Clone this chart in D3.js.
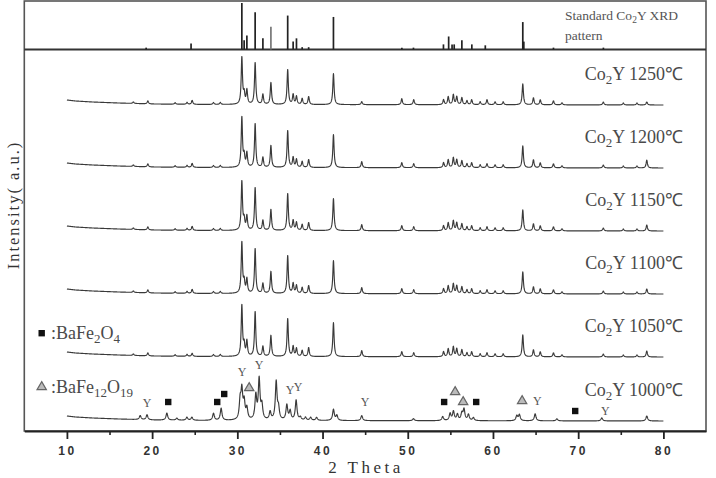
<!DOCTYPE html>
<html><head><meta charset="utf-8">
<script src="https://cdn.jsdelivr.net/npm/d3@7"></script>
<style>body{margin:0;background:#fff}</style>
</head><body>
<svg id="c" width="716" height="478"></svg>
<script>
// ---------- data ----------
const xTicks = [10, 20, 30, 40, 50, 60, 70, 80];
const xMinorTicks = [15, 25, 35, 45, 55, 65, 75];

// standard Co2Y stick pattern: 2theta, relative intensity (%)
const stdAngles  = [19.3, 24.57, 30.53, 30.80, 31.12, 32.09, 33.00, 33.94, 35.91, 36.55, 36.94, 37.61, 38.37, 41.28, 49.31, 50.67, 54.19, 54.80, 55.20, 55.45, 56.35, 57.52, 59.10, 63.50, 63.62, 67.10, 72.96];
const stdHeights = [4, 13, 100, 20, 30, 80, 24, 49, 73, 17, 24, 5, 5, 70, 4, 4, 11, 28, 11, 11, 20, 11, 9, 59, 17, 4, 4];

// Co2Y phase peaks in the 1050-1250 patterns
const co2yAngles = [17.8, 19.5, 22.7, 24.1, 24.7, 27.2, 28.0, 30.53, 30.80, 31.12, 32.09, 33.00, 33.94, 35.91, 36.55, 36.94, 37.61, 38.37, 41.28, 44.6, 49.3, 50.7, 54.2, 54.75, 55.35, 55.75, 56.35, 56.95, 57.5, 58.5, 59.3, 60.25, 61.2, 63.5, 64.75, 65.55, 67.1, 68.1, 72.95, 75.3, 76.9, 78.05];
const h1250 = [1.5, 3, 1.5, 2, 4, 2, 2, 47, 10, 14, 42, 10, 22, 35, 10, 8, 6, 8, 31, 3, 6, 5, 5, 8, 10, 8, 7, 4, 5, 3, 5, 3, 3, 21, 7, 5, 4, 2, 3, 2, 2, 3];
const h1200 = [1.5, 3, 1.5, 2, 4, 2, 2, 50, 11, 14, 44, 10, 22, 37, 10, 8, 6, 8, 33, 6, 5, 4, 5, 8, 10, 8, 7, 4, 5, 3, 4, 3, 3, 22, 8, 5, 4, 2, 3, 2, 2, 8];
const h1150 = [1.5, 3, 1.5, 2, 4, 2, 2, 49, 10, 14, 43, 10, 21, 37, 10, 8, 6, 8, 32, 6, 5, 4, 5, 8, 10, 8, 7, 4, 5, 3, 4, 3, 3, 21, 7, 5, 4, 2, 3, 2, 2, 6];
const h1100 = [1.5, 3, 1.5, 2, 4, 2, 2, 51, 11, 14, 45, 10, 22, 38, 10, 8, 6, 8, 33, 6, 5, 4, 5, 8, 10, 8, 7, 4, 5, 3, 4, 3, 3, 22, 7, 5, 4, 2, 3, 2, 2, 5];
const h1050 = [1.5, 3, 1.5, 2, 3, 2, 2, 51, 11, 15, 45, 10, 21, 38, 10, 8, 6, 9, 34, 6, 5, 4, 5, 8, 10, 8, 7, 4, 5, 3, 4, 3, 3, 22, 7, 5, 4, 2, 3, 2, 2, 6];

// 1000 C pattern (mixed phases)
const angles1000 = [18.6, 19.4, 21.73, 22.9, 24.08, 24.67, 27.2, 28.1, 30.33, 30.53, 30.8, 31.12, 32.17, 32.56, 32.88, 33.85, 34.56, 34.83, 35.81, 36.2, 36.9, 37.4, 38.0, 38.6, 39.3, 41.28, 41.68, 44.6, 50.67, 54.1, 54.97, 55.36, 55.83, 56.35, 56.6, 57.12, 57.7, 62.8, 63.1, 64.95, 67.5, 72.77, 78.05];
const h1000 = [4, 5, 7, 2, 3, 3, 7, 12, 18, 28, 17, 11, 24, 40, 14, 8, 38, 11, 15, 9, 20, 3, 3, 3, 3, 11, 5, 5, 2, 4, 7, 9, 6, 7, 11, 6, 3, 5, 6, 7, 2, 3, 5];

// sloping background at low angle
const bgAngles = [10, 11, 13, 16, 20, 26, 80];
const bgLevels = [5, 4, 3, 2, 1, 0.5, 0];

const seriesLabels = ["1250", "1200", "1150", "1100", "1050", "1000"];
const seriesOffsets = [326, 263, 200, 137, 74, 10];

// phase markers on the 1000 pattern: 2theta, height above its baseline
const markY      = [[19.42, 18], [30.57, 49], [32.56, 56], [36.2, 31], [37.14, 34], [45.0, 19], [65.2, 20], [73.2, 10.5]];
const markSquare = [[21.89, 19], [27.64, 19], [28.46, 27], [54.27, 19], [58.03, 19], [69.65, 10]];
const markTri    = [[31.39, 33], [55.56, 29], [56.5, 19], [63.42, 20]];

// ---------- drawing ----------
const svg = d3.select("#c");
const serif = "'Liberation Serif','Times New Roman',serif";
const L = 24.3, R = 706, T = 1, B = 431, SEP = 49.5;
const x = d3.scaleLinear().domain([5, 85]).range([L, R]);
const yTop = d3.scaleLinear().domain([0, 100]).range([SEP, 3]);
const yMain = d3.scaleLinear().domain([0, 380]).range([B, 51]);
const bg = d3.scaleLinear().domain(bgAngles).range(bgLevels).clamp(true);
const grid = d3.range(10, 80.0001, 0.02);

function profile(pos, hts, gamma) {
  const g2 = gamma * gamma;
  return grid.map(t => {
    let s = bg(t);
    for (let i = 0; i < pos.length; i++) {
      const d = t - pos[i];
      s += hts[i] * g2 / (d * d + g2);
    }
    return [t, s];
  });
}

// frame
svg.append("rect").attr("x", L).attr("y", T).attr("width", R - L).attr("height", B - T)
  .attr("fill", "none").attr("stroke", "#555").attr("stroke-width", 1.6);
svg.append("line").attr("x1", L).attr("x2", R).attr("y1", SEP).attr("y2", SEP)
  .attr("stroke", "#333").attr("stroke-width", 2);

// sticks
svg.append("g").selectAll("line").data(stdAngles).join("line")
  .attr("x1", d => x(d)).attr("x2", d => x(d))
  .attr("y1", yTop(0)).attr("y2", (d, i) => yTop(stdHeights[i]))
  .attr("stroke", (d, i) => i === 7 ? "#777" : "#222").attr("stroke-width", 1.7);

const stdText = svg.append("text").attr("x", 565).attr("y", 20)
  .attr("font-family", serif).attr("font-size", 13.5).attr("fill", "#555");
stdText.append("tspan").text("Standard Co");
stdText.append("tspan").attr("dy", 3).attr("font-size", 9.5).text("2");
stdText.append("tspan").attr("dy", -3).text("Y XRD");
svg.append("text").attr("x", 565).attr("y", 40)
  .attr("font-family", serif).attr("font-size", 13.5).attr("fill", "#555").text("pattern");

// traces
const line = d3.line().x(d => x(d[0]));
const allHeights = [h1250, h1200, h1150, h1100, h1050];
const traces = allHeights.map(h => profile(co2yAngles, h, 0.09));
traces.push(profile(angles1000, h1000, 0.12));

traces.forEach((tr, k) => {
  const off = seriesOffsets[k];
  svg.append("path").datum(tr)
    .attr("d", line.y(d => yMain(d[1] + off)))
    .attr("fill", "none").attr("stroke", "#3a3a3a").attr("stroke-width", 1.15)
    .attr("stroke-linejoin", "round");
  const base = yMain(off);
  const t = svg.append("text").attr("x", 683).attr("y", base - 25)
    .attr("text-anchor", "end").attr("font-family", serif).attr("font-size", 18).attr("fill", "#4a4a4a");
  t.append("tspan").text("Co");
  t.append("tspan").attr("dy", 4).attr("font-size", 13).text("2");
  t.append("tspan").attr("dy", -4).text("Y " + seriesLabels[k] + "℃");
});

// markers on 1000
const off1000 = seriesOffsets[5];
svg.append("g").selectAll("text").data(markY).join("text")
  .attr("x", d => x(d[0])).attr("y", d => yMain(off1000 + d[1]) + 4)
  .attr("text-anchor", "middle").attr("font-family", serif).attr("font-size", 12).attr("fill", "#555")
  .text("Y");
svg.append("g").selectAll("rect").data(markSquare).join("rect")
  .attr("x", d => x(d[0]) - 3.2).attr("y", d => yMain(off1000 + d[1]) - 3.2)
  .attr("width", 6.4).attr("height", 6.4).attr("fill", "#111");
const tri = d3.symbol().type(d3.symbolTriangle).size(38);
svg.append("g").selectAll("path").data(markTri).join("path")
  .attr("transform", d => `translate(${x(d[0])},${yMain(off1000 + d[1])})`)
  .attr("d", tri).attr("fill", "#bbb").attr("stroke", "#666").attr("stroke-width", 1.2);

// legend
svg.append("rect").attr("x", 38.5).attr("y", 330).attr("width", 6.4).attr("height", 6.4).attr("fill", "#111");
const lg1 = svg.append("text").attr("x", 51).attr("y", 339)
  .attr("font-family", serif).attr("font-size", 18).attr("fill", "#4a4a4a");
lg1.append("tspan").text(":BaFe");
lg1.append("tspan").attr("dy", 4).attr("font-size", 13).text("2");
lg1.append("tspan").attr("dy", -4).text("O");
lg1.append("tspan").attr("dy", 4).attr("font-size", 13).text("4");
svg.append("path").attr("transform", "translate(41.7,387)").attr("d", tri)
  .attr("fill", "#bbb").attr("stroke", "#666").attr("stroke-width", 1.2);
const lg2 = svg.append("text").attr("x", 51).attr("y", 393)
  .attr("font-family", serif).attr("font-size", 18).attr("fill", "#4a4a4a");
lg2.append("tspan").text(":BaFe");
lg2.append("tspan").attr("dy", 4).attr("font-size", 13).text("12");
lg2.append("tspan").attr("dy", -4).text("O");
lg2.append("tspan").attr("dy", 4).attr("font-size", 13).text("19");

// x axis
const axMinor = svg.append("g").attr("transform", `translate(0,${B})`)
  .call(d3.axisBottom(x).tickValues(xMinorTicks).tickSize(4).tickSizeOuter(0).tickFormat(""));
axMinor.select(".domain").remove();
axMinor.selectAll("line").attr("stroke", "#222").attr("stroke-width", 1.6);
const ax = svg.append("g").attr("transform", `translate(0,${B})`)
  .call(d3.axisBottom(x).tickValues(xTicks).tickSize(8).tickSizeOuter(0).tickPadding(7).tickFormat(d3.format("d")));
ax.select(".domain").attr("stroke", "#222").attr("stroke-width", 2);
ax.selectAll(".tick line").attr("stroke", "#222").attr("stroke-width", 1.8);
ax.selectAll(".tick text").attr("font-family", "'Liberation Sans',Arial,sans-serif")
  .attr("font-weight", "bold").attr("font-size", 12).attr("letter-spacing", "2.5px").attr("fill", "#333");

svg.append("text").attr("x", 366).attr("y", 473).attr("text-anchor", "middle")
  .attr("font-family", serif).attr("font-size", 17).attr("letter-spacing", "3.5px").attr("fill", "#333")
  .text("2 Theta");
svg.append("text").attr("transform", "translate(19,205) rotate(-90)").attr("text-anchor", "middle")
  .attr("font-family", serif).attr("font-size", 16.5).attr("letter-spacing", "2px").attr("fill", "#333")
  .text("Intensity( a.u.)");
</script>
</body></html>
